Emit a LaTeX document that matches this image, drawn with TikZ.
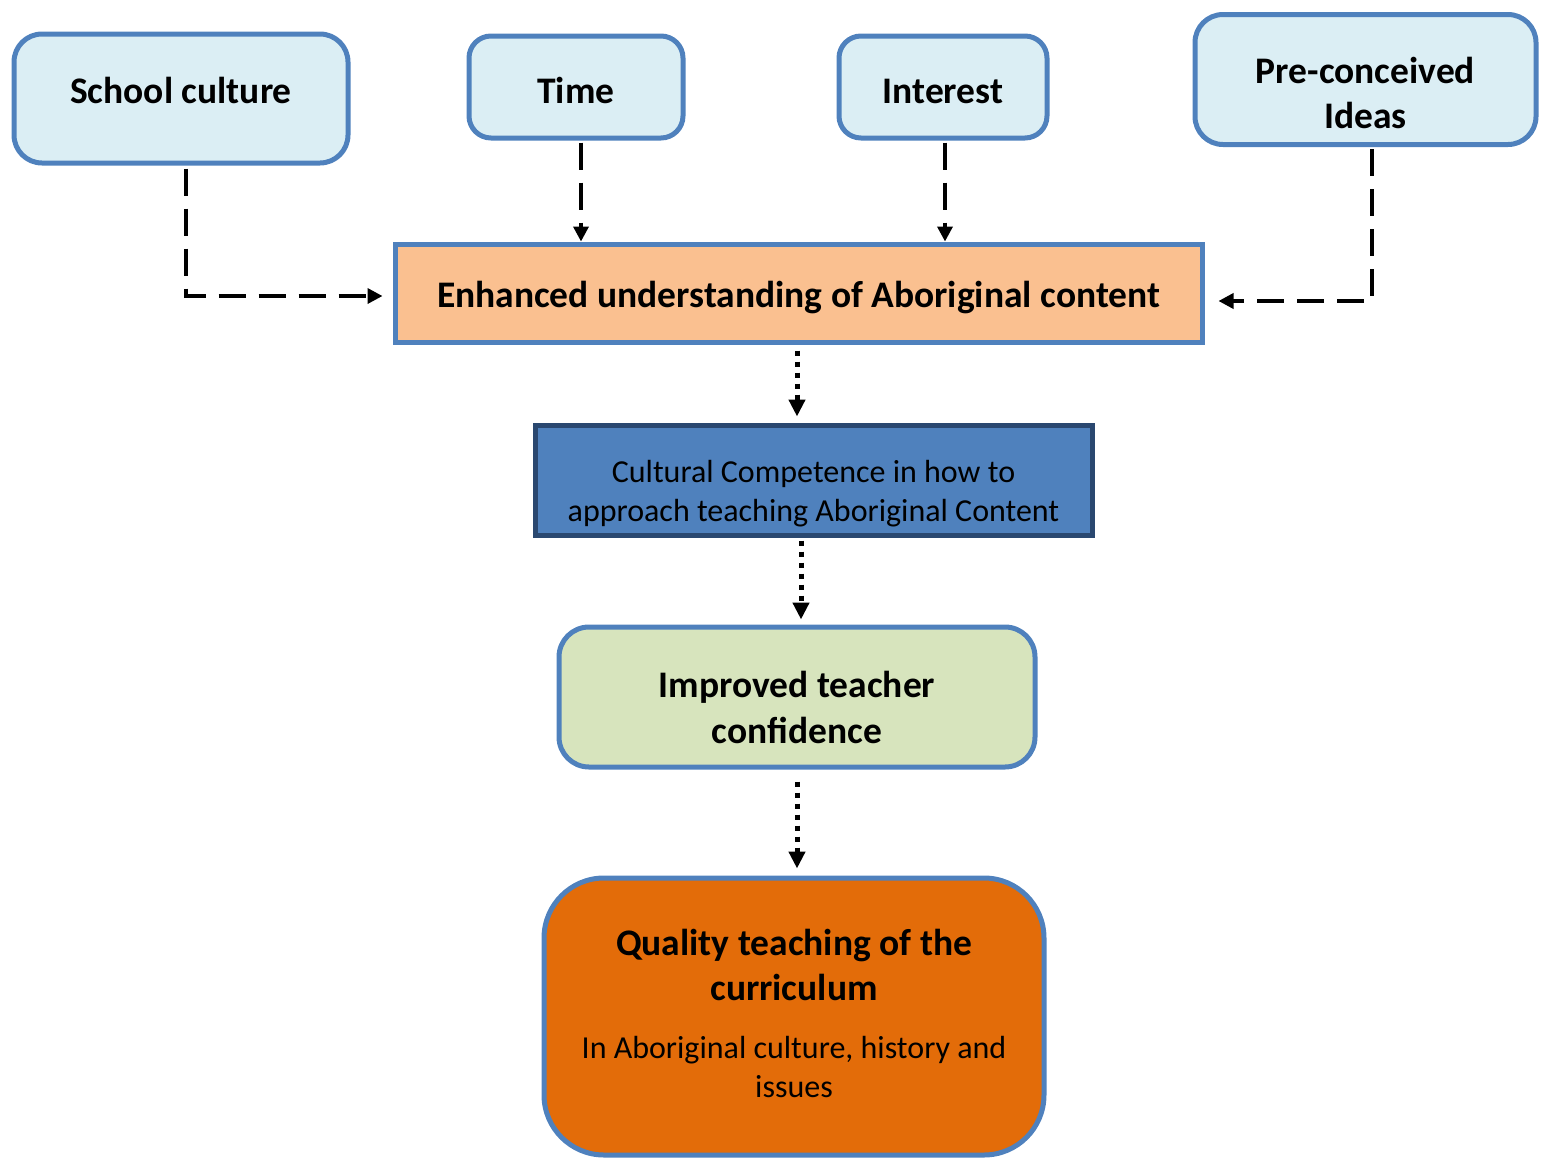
\documentclass[tikz,border=0pt]{standalone}
\usepackage{fontspec}
\setmainfont{Carlito}
\usetikzlibrary{arrows.meta}
\definecolor{bborder}{HTML}{4F81BD}
\definecolor{lblue}{HTML}{DBEEF4}
\definecolor{peach}{HTML}{FAC090}
\definecolor{midblue}{HTML}{4F81BD}
\definecolor{navy}{HTML}{2A4870}
\definecolor{lgreen}{HTML}{D7E4BD}
\definecolor{dorange}{HTML}{E36C09}
\newcommand\shifted[2]{\raisebox{#1}[\height][\depth]{\begin{tabular}{@{}c@{}}#2\end{tabular}}}
\tikzset{
  boldfont/.style={font=\fontsize{37.5}{45}\selectfont\bfseries},
  regfont/.style={font=\fontsize{32}{39}\selectfont},
  topbox/.style={draw=bborder, fill=lblue, line width=5pt, rounded corners=28pt, inner sep=0pt, boldfont},
  dashconn/.style={line width=3.5pt, dash pattern=on 27pt off 13pt, -{Triangle[length=15pt,width=15pt]}},
  dotconn/.style={line width=5pt, dash pattern=on 5pt off 6pt, -{Triangle[length=17pt,width=16pt]}},
}
\begin{document}
\begin{tikzpicture}[x=1pt,y=-1pt]
\useasboundingbox (0,0) rectangle (1548,1160);
% top boxes
\node[topbox, minimum width=334pt, minimum height=129pt] (school) at (181,98.5) {\shifted{4pt}{School culture}};
\node[topbox, minimum width=214pt, minimum height=102pt, rounded corners=22pt] (time) at (576,87) {\shifted{-7pt}{Time}};
\node[topbox, minimum width=208pt, minimum height=102pt, rounded corners=22pt] (interest) at (943,87) {\shifted{-7pt}{Interest}};
\node[topbox, minimum width=341pt, minimum height=130pt] (pre) at (1365.5,79.5) {\shifted{-17pt}{Pre-conceived\\Ideas}};
% enhanced
\node[draw=bborder, fill=peach, line width=5pt, minimum width=807pt, minimum height=98pt, inner sep=0pt, boldfont]
      (enh) at (798.5,293) {\shifted{-5pt}{Enhanced understanding of Aboriginal content}};
% cultural
\node[draw=navy, fill=midblue, line width=5pt, minimum width=557pt, minimum height=110pt, inner sep=0pt, regfont]
      (cult) at (813.5,480) {\shifted{-14pt}{Cultural Competence in how to\\approach teaching Aboriginal Content}};
% improved
\node[draw=bborder, fill=lgreen, line width=5pt, rounded corners=30pt, minimum width=476pt, minimum height=140pt,
      inner sep=0pt, font=\fontsize{37.5}{46}\selectfont\bfseries]
      (imp) at (797,697) {\shifted{-14pt}{Improved teacher\\confidence}};
% quality
\node[draw=bborder, fill=dorange, line width=5pt, rounded corners=60pt, minimum width=500pt, minimum height=277pt,
      inner sep=0pt, boldfont] (qual) at (794,1016.5)
      {\shifted{-1pt}{Quality teaching of the\\curriculum\\[13pt]
        \fontsize{32}{39}\selectfont\mdseries In Aboriginal culture, history and\\[-6pt]
        \fontsize{32}{39}\selectfont\mdseries issues}};
% dashed connectors
\draw[dashconn] ([xshift=5pt,yshift=-3pt]school.south) |- ([xshift=-10pt,yshift=-3pt]enh.west);
\draw[dashconn] ([xshift=5pt,yshift=-2pt]time.south) -- ([xshift=5pt]time.south |- enh.north);
\draw[dashconn] ([xshift=2pt,yshift=-2pt]interest.south) -- ([xshift=2pt]interest.south |- enh.north);
\draw[dashconn] ([xshift=6.5pt,yshift=-2pt]pre.south) |- ([xshift=14pt,yshift=-8pt]enh.east);
% dotted connectors
\draw[dotconn] ([xshift=-1.5pt,yshift=-6pt]enh.south) -- ([xshift=-1.5pt,yshift=6pt]enh.south |- cult.north);
\draw[dotconn] ([xshift=-12.5pt,yshift=-3pt]cult.south) -- ([xshift=4pt,yshift=5pt]imp.north);
\draw[dotconn] ([yshift=-12pt]imp.south) -- ([yshift=7pt]imp.south |- qual.north);
\end{tikzpicture}
\end{document}
